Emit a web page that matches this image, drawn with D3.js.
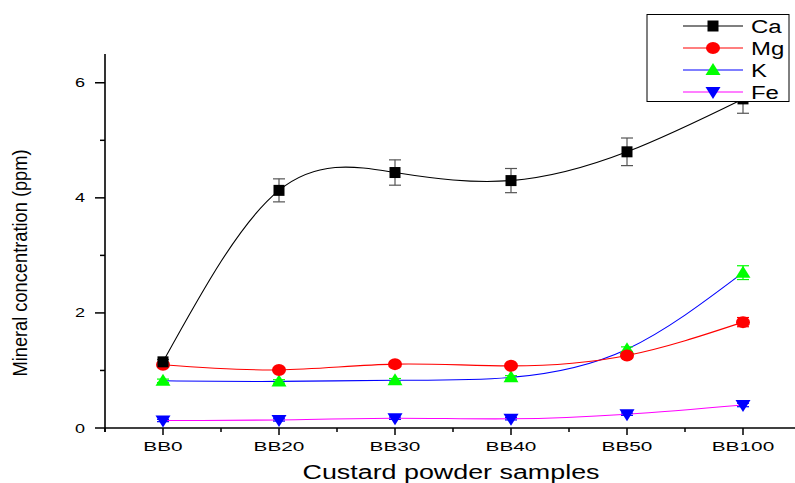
<!DOCTYPE html>
<html>
<head>
<meta charset="utf-8">
<script src="https://cdn.jsdelivr.net/npm/d3@7"></script>
<style>
  body { margin: 0; background: #fff; }
  text { font-family: Arial, "Liberation Sans", sans-serif; }
</style>
</head>
<body>
<script>
// Chart data
const samples = ["BB0", "BB20", "BB30", "BB40", "BB50", "BB100"];
const caValues = [1.15, 4.13, 4.44, 4.30, 4.80, 5.72];
const caErrors = [0.04, 0.20, 0.22, 0.21, 0.24, 0.25];
const mgValues = [1.10, 1.01, 1.11, 1.08, 1.26, 1.84];
const mgErrors = [0.03, 0.03, 0.03, 0.03, 0.04, 0.08];
const kValues = [0.82, 0.81, 0.83, 0.88, 1.37, 2.70];
const kErrors = [0.03, 0.03, 0.03, 0.03, 0.04, 0.12];
const feValues = [0.13, 0.14, 0.17, 0.16, 0.24, 0.40];
const feErrors = [0.02, 0.02, 0.02, 0.02, 0.02, 0.03];
const yTicks = [0, 2, 4, 6];

const width = 795;
const height = 483;

const series = [
  { name: "Ca", values: caValues, errors: caErrors, line: "#000", fill: "#000", err: "#555", symbol: "square" },
  { name: "Mg", values: mgValues, errors: mgErrors, line: "#ff0000", fill: "#ff0000", err: "#ff0000", symbol: "ellipse" },
  { name: "K", values: kValues, errors: kErrors, line: "#0000ff", fill: "#00ff00", err: "#00ff00", symbol: "up" },
  { name: "Fe", values: feValues, errors: feErrors, line: "#ff00ff", fill: "#0000ff", err: "#0000ff", symbol: "down" }
];

const svg = d3.select("body").append("svg")
    .attr("width", width)
    .attr("height", height);

// the source picture is stretched sideways, so widen the text to match
function stretch(sel, factor) {
  sel.each(function() {
    const w = this.getComputedTextLength();
    d3.select(this).attr("textLength", w * factor).attr("lengthAdjust", "spacingAndGlyphs");
  });
}

// Scales
const x = d3.scaleLinear().domain([-0.5, 5.5]).range([105, 801]);
const y = d3.scaleLinear().domain([0, 6.5]).range([428, 54]);

// Axes
const xAxis = svg.append("g").attr("transform", "translate(0,428)");
xAxis.append("line").attr("x1", 105).attr("x2", 801).attr("stroke", "#000").attr("stroke-width", 1.6);
xAxis.selectAll(".major").data(samples).enter().append("line")
    .attr("x1", (d, i) => x(i)).attr("x2", (d, i) => x(i))
    .attr("y1", 0).attr("y2", 7).attr("stroke", "#000").attr("stroke-width", 1.5);
xAxis.selectAll(".minor").data(d3.range(-0.5, 5.6, 1)).enter().append("line")
    .attr("x1", d => x(d)).attr("x2", d => x(d))
    .attr("y1", 0).attr("y2", 4).attr("stroke", "#000").attr("stroke-width", 1.5);
xAxis.selectAll(".lbl").data(samples).enter().append("text")
    .attr("x", (d, i) => x(i)).attr("y", 23)
    .attr("text-anchor", "middle").attr("font-size", 13).text(d => d)
    .call(stretch, 1.6);

const yAxis = svg.append("g").attr("transform", "translate(105,0)");
yAxis.append("line").attr("y1", y(6.5)).attr("y2", 432).attr("stroke", "#000").attr("stroke-width", 1.6);
yAxis.selectAll(".major").data(yTicks).enter().append("line")
    .attr("x1", -10).attr("x2", 0).attr("y1", d => y(d)).attr("y2", d => y(d))
    .attr("stroke", "#000").attr("stroke-width", 1.5);
yAxis.selectAll(".minor").data([1, 3, 5]).enter().append("line")
    .attr("x1", -5).attr("x2", 0).attr("y1", d => y(d)).attr("y2", d => y(d))
    .attr("stroke", "#000").attr("stroke-width", 1.5);
yAxis.selectAll(".lbl").data(yTicks).enter().append("text")
    .attr("x", -20).attr("y", d => y(d) + 4.5)
    .attr("text-anchor", "end").attr("font-size", 12).text(d => d)
    .call(stretch, 1.5);

// Axis titles
svg.append("text")
    .attr("x", 451).attr("y", 479)
    .attr("text-anchor", "middle").attr("font-size", 20)
    .attr("textLength", 297).attr("lengthAdjust", "spacingAndGlyphs")
    .text("Custard powder samples");
svg.append("text")
    .attr("transform", "translate(27,263) rotate(-90) scale(1,1.4)")
    .attr("text-anchor", "middle").attr("font-size", 15)
    .attr("textLength", 227).attr("lengthAdjust", "spacingAndGlyphs")
    .text("Mineral concentration (ppm)");

// Marker drawing
function drawMarker(g, s) {
  if (s.symbol === "ellipse") {
    g.append("ellipse").attr("rx", 7).attr("ry", 6).attr("fill", s.fill);
  } else if (s.symbol === "up") {
    g.append("path").attr("d", "M0,-7L7.5,5L-7.5,5Z").attr("fill", s.fill);
  } else if (s.symbol === "down") {
    g.append("path").attr("d", "M0,7L7.5,-5L-7.5,-5Z").attr("fill", s.fill);
  } else {
    g.append("rect").attr("x", -5.5).attr("y", -5.5).attr("width", 11).attr("height", 11).attr("fill", s.fill);
  }
}

const line = d3.line()
    .x((d, i) => x(i))
    .y(d => y(d))
    .curve(d3.curveNatural);

// Draw series back to front
series.slice().reverse().forEach(s => {
  const g = svg.append("g");
  g.append("path")
      .datum(s.values)
      .attr("d", line)
      .attr("fill", "none")
      .attr("stroke", s.line)
      .attr("stroke-width", 1.1);

  s.values.forEach((v, i) => {
    const e = s.errors[i];
    const eb = g.append("g").attr("stroke", s.err).attr("stroke-width", 1.2);
    eb.append("line").attr("x1", x(i)).attr("x2", x(i)).attr("y1", y(v + e)).attr("y2", y(v - e));
    eb.append("line").attr("x1", x(i) - 6).attr("x2", x(i) + 6).attr("y1", y(v + e)).attr("y2", y(v + e));
    eb.append("line").attr("x1", x(i) - 6).attr("x2", x(i) + 6).attr("y1", y(v - e)).attr("y2", y(v - e));
    const m = g.append("g").attr("transform", `translate(${x(i)},${y(v)})`);
    drawMarker(m, s);
  });
});

// Legend
const legend = svg.append("g");
legend.append("rect")
    .attr("x", 647).attr("y", 14.5).attr("width", 142).attr("height", 87)
    .attr("fill", "#fff").attr("stroke", "#000").attr("stroke-width", 1);
series.forEach((s, i) => {
  const ly = 26 + i * 22;
  legend.append("line")
      .attr("x1", 683).attr("x2", 743).attr("y1", ly).attr("y2", ly)
      .attr("stroke", s.line).attr("stroke-width", 1.1);
  const m = legend.append("g").attr("transform", `translate(713,${ly})`);
  drawMarker(m, s);
  legend.append("text")
      .attr("x", 751).attr("y", ly + 6.5)
      .attr("font-size", 18).text(s.name)
      .call(stretch, 1.33);
});
</script>
</body>
</html>
